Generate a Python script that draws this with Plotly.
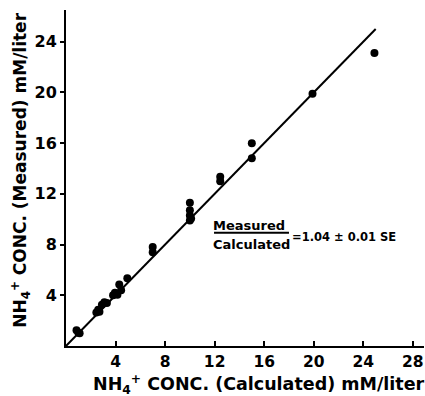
import plotly.graph_objects as go

calc = [0.85, 1.0, 1.1, 2.45, 2.6, 2.7, 2.9, 3.1, 3.3, 3.8, 3.95, 4.15, 4.3, 4.45, 4.95,
        7.0, 7.0, 10, 10, 10, 10, 10.1, 12.45, 12.45, 15, 15, 19.9, 24.9]
meas = [1.25, 1.05, 1.0, 2.65, 2.85, 2.7, 3.25, 3.45, 3.4, 4.0, 4.2, 4.05, 4.85, 4.4, 5.35,
        7.8, 7.4, 11.3, 10.7, 10.3, 9.9, 10.05, 13.35, 13.0, 16.0, 14.8, 19.9, 23.1]
line_x = [0, 25]
line_y = [0, 25]
x_ticks = [4, 8, 12, 16, 20, 24, 28]
y_ticks = [4, 8, 12, 16, 20, 24]

FONT = "DejaVu Sans"
fig = go.Figure()
fig.add_trace(go.Scatter(x=line_x, y=line_y, mode="lines",
                         line=dict(color="black", width=2), showlegend=False))
fig.add_trace(go.Scatter(x=calc, y=meas, mode="markers",
                         marker=dict(color="black", size=8), showlegend=False))

fig.add_annotation(x=14.75, y=9.5, text="<b>Measured</b>", showarrow=False,
                   font=dict(family=FONT, size=13, color="black"))
fig.add_annotation(x=14.95, y=8.0, text="<b>Calculated</b>", showarrow=False,
                   font=dict(family=FONT, size=13, color="black"))
fig.add_shape(type="line", x0=11.95, x1=18.0, y0=8.94, y1=8.94,
              line=dict(color="black", width=2))
fig.add_annotation(x=18.05, y=8.62, text="<b>=1.04 ± 0.01 SE</b>", showarrow=False,
                   xanchor="left", yanchor="middle",
                   font=dict(family=FONT, size=11.5, color="black"))

# axis titles
fig.add_annotation(xref="paper", yref="paper", x=0.538, y=-0.115,
                   xanchor="center", yanchor="middle",
                   text="<b>NH<sub>4</sub><sup>+</sup> CONC. (Calculated) mM/liter</b>",
                   showarrow=False, font=dict(family=FONT, size=17.5, color="black"))
fig.add_annotation(xref="paper", yref="paper", x=-0.126, y=0.524, textangle=-90,
                   xanchor="center", yanchor="middle",
                   text="<b>NH<sub>4</sub><sup>+</sup> CONC. (Measured) mM/liter</b>",
                   showarrow=False, font=dict(family=FONT, size=17, color="black"))

fig.update_layout(
    width=425, height=396,
    margin=dict(l=66, r=1, t=10, b=50),
    paper_bgcolor="white", plot_bgcolor="white",
    font=dict(family=FONT, color="black"),
)
fig.update_xaxes(range=[0, 28.9], tickvals=x_ticks, ticktext=[f"<b>{v}</b>" for v in x_ticks],
                 ticks="inside", ticklen=5, ticklabeloverflow="allow",
                 tickwidth=1.5, tickcolor="black",
                 showline=True, linecolor="black", linewidth=2, showgrid=False,
                 zeroline=False, tickfont=dict(size=15.5, family=FONT))
fig.update_yaxes(range=[0, 26.5], tickvals=y_ticks, ticktext=[f"<b>{v}</b>" for v in y_ticks],
                 ticks="outside", ticklen=4, ticklabeloverflow="allow",
                 tickwidth=1.5, tickcolor="black",
                 showline=True, linecolor="black", linewidth=2, showgrid=False,
                 zeroline=False, tickfont=dict(size=16, family=FONT))
fig.write_html("out.html", config={"displayModeBar": False},
               post_script="document.body.style.margin='0';document.body.style.overflow='hidden';")
